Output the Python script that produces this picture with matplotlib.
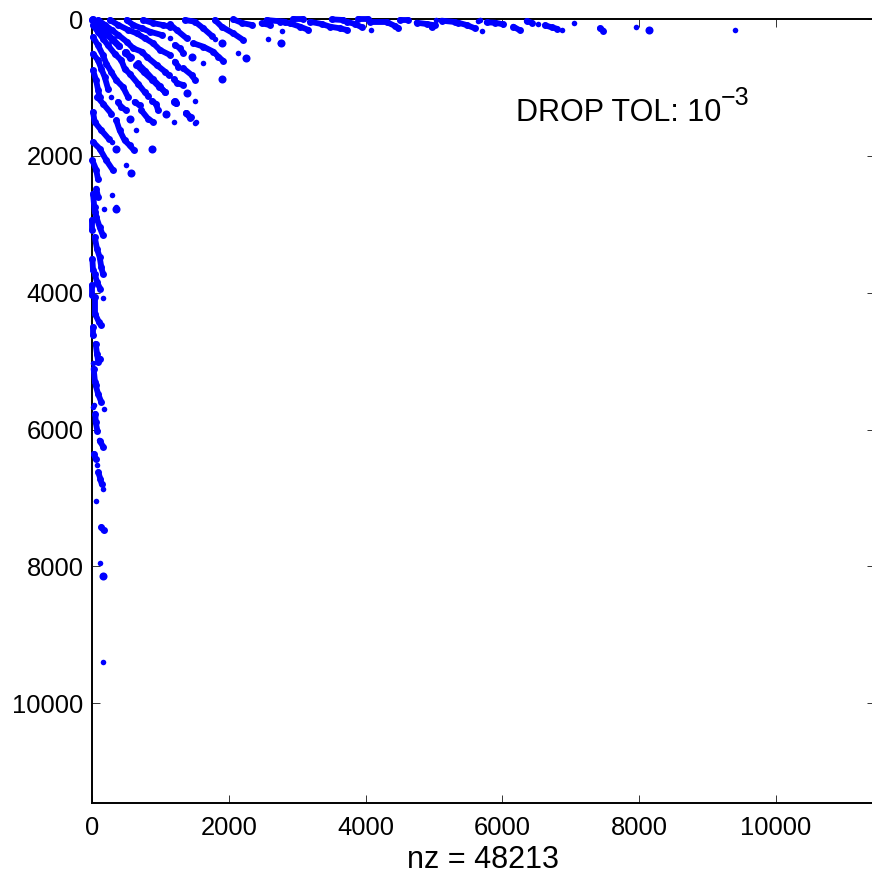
import matplotlib
matplotlib.use('Agg')
import matplotlib.pyplot as plt

# sparsity pattern is symmetric, so only the part above the diagonal is listed
diag_col = [0, 100, 190, 290, 390]
diag_row = [10, 110, 200, 300, 400]
diag1b_col = [480, 560]
diag1b_row = [490, 570]
diag2_col = [650, 760, 880, 980, 1067]
diag2_row = [670, 780, 890, 990, 1062]
diag3_col = [1198, 1227]
diag3_row = [1209, 1233]
diag4_col = [1374, 1432]
diag4_row = [1379, 1442]

t1_col = [93, 190, 287, 385, 506, 604, 726, 799, 945, 1067, 1120]
t1_row = [15, 88, 161, 234, 331, 429, 477, 550, 672, 769, 818]
t2_col = [263, 385, 531, 653, 775, 896, 994, 1140]
t2_row = [15, 88, 161, 209, 283, 356, 453, 526]
t3_col = [506, 604, 726, 847, 1018]
t3_row = [15, 88, 136, 185, 234]
t4_col = [750, 896, 1042, 1140]
t4_row = [15, 60, 90, 112]
s1_col = [1140, 1237, 1383]
s1_row = [78, 161, 282]
s2_col = [1359, 1505, 1627, 1749]
s2_row = [15, 39, 136, 243]
s3_col = [1797, 1895, 2065, 2211]
s3_row = [15, 112, 209, 307]
s3b_col = [2065, 2200, 2340]
s3b_row = [5, 60, 88]
s4_col = [1481, 1627, 1773, 1846, 1919]
s4_row = [355, 404, 477, 550, 613]
s5_col = [1213, 1286, 1335]
s5_row = [380, 428, 500]
s6_col = [1213, 1262]
s6_row = [623, 696]
s7_col = [1335, 1456, 1505]
s7_row = [721, 818, 891]
s8_col = [1198, 1247, 1335]
s8_row = [882, 940, 965]
t8_col = [2479, 2600]
t8_row = [63, 88]
t9_col = [2552, 2820]
t9_row = [15, 40]

b1_col = [2749, 2895, 3041, 3163]
b1_row = [40, 63, 112, 160]
b2_col = [2944, 3090]
b2_row = [5, 5]
b3_col = [3187, 3358, 3480, 3625, 3723]
b3_row = [40, 73, 112, 136, 160]
b4_col = [3504, 3674]
b4_row = [5, 15]
b5_col = [3723, 3845, 3942]
b5_row = [40, 73, 120]
b6_col = [3893, 4040]
b6_row = [5, 5]
b7_col = [4064, 4307, 4430, 4478]
b7_row = [44, 44, 102, 136]
b8_col = [4502, 4624]
b8_row = [15, 15]
b9_col = [4746, 4892, 5013, 4965]
b9_row = [54, 73, 92, 122]
b10_col = [5111, 5306]
b10_row = [24, 44]
b11_col = [5354, 5476, 5598]
b11_row = [54, 88, 136]
b12_col = [5770, 5892, 6014]
b12_row = [49, 54, 78]
b13_col = [6160, 6257]
b13_row = [112, 166]
b14_col = [6355, 6428]
b14_row = [29, 54]
b15_col = [6623, 6720, 6793]
b15_row = [92, 122, 141]
b16_col = [7426, 7475]
b16_row = [136, 170]

small_col = [1140, 1797, 2138, 1617, 2773, 2749, 4074, 5028, 5647, 5697, 5673,
             6525, 6866, 7046, 7952, 9394, 1510, 1510, 2576]
small_row = [282, 292, 492, 638, 170, 355, 160, 15, 24, 170, 15,
             78, 166, 54, 112, 166, 1204, 1515, 297]
big_col = [1895, 2250, 1456, 1895, 1393, 8142, 2770]
big_row = [355, 565, 560, 877, 1077, 166, 355]

strands = [
    (diag_col, diag_row), (diag1b_col, diag1b_row), (diag2_col, diag2_row),
    (diag3_col, diag3_row), (diag4_col, diag4_row),
    (t1_col, t1_row), (t2_col, t2_row), (t3_col, t3_row), (t4_col, t4_row),
    (s1_col, s1_row), (s2_col, s2_row), (s3_col, s3_row), (s3b_col, s3b_row),
    (s4_col, s4_row), (s5_col, s5_row), (s6_col, s6_row), (s7_col, s7_row), (s8_col, s8_row),
    (t8_col, t8_row), (t9_col, t9_row),
    (b1_col, b1_row), (b2_col, b2_row), (b3_col, b3_row), (b4_col, b4_row),
    (b5_col, b5_row), (b6_col, b6_row), (b7_col, b7_row), (b8_col, b8_row),
    (b9_col, b9_row), (b10_col, b10_row), (b11_col, b11_row), (b12_col, b12_row),
    (b13_col, b13_row), (b14_col, b14_row), (b15_col, b15_row), (b16_col, b16_row),
]

x_ticks = [0, 2000, 4000, 6000, 8000, 10000]
y_ticks = [0, 2000, 4000, 6000, 8000, 10000]

plt.rcParams['font.family'] = ['Liberation Sans', 'DejaVu Sans']

W, H = 872, 876
fig = plt.figure(figsize=(W / 100, H / 100), dpi=100)
ax = fig.add_axes([92 / W, 1 - 802.5 / H, 782.5 / W, 783.5 / H])

for col, row in strands:
    for a, b in ((col, row), (row, col)):
        ax.plot(a, b, '-o', color='#0000ff', lw=4.2, ms=5, mew=0,
                solid_capstyle='round', clip_on=False, zorder=5)
for a, b in ((small_col, small_row), (small_row, small_col)):
    ax.plot(a, b, 'o', color='#0000ff', ms=4, mew=0, clip_on=False, zorder=5)
for a, b in ((big_col, big_row), (big_row, big_col)):
    ax.plot(a, b, 'o', color='#0000ff', ms=5.8, mew=0, clip_on=False, zorder=5)

ax.set_xlim(0, 11440)
ax.set_ylim(11450, 0)
ax.set_xticks(x_ticks)
ax.set_yticks(y_ticks)
ax.tick_params(direction='in', length=5.8, width=0.7, labelsize=18.4, top=True, right=True,
               color='#333333')
ax.tick_params(axis='x', pad=9.5)
ax.tick_params(axis='y', pad=6)
for s in ax.spines.values():
    s.set_linewidth(1.4)
ax.set_xlabel('nz = 48213', fontsize=22, labelpad=4)
ax.text(6199, 1491, 'DROP TOL: 10', fontsize=22, ha='left', va='baseline')
ax.text(9190, 1257, '\u22123', fontsize=18, ha='left', va='baseline')

fig.savefig('out.png', dpi=100)
